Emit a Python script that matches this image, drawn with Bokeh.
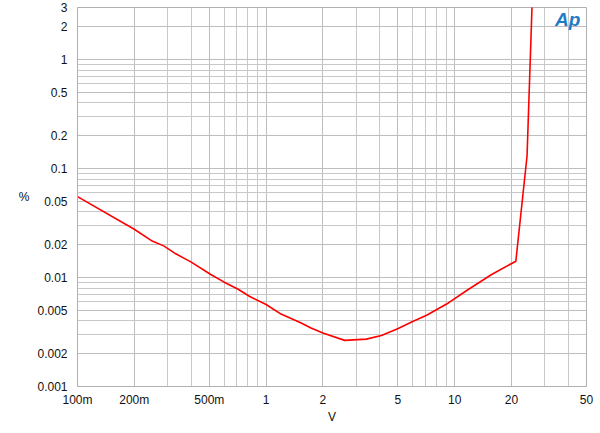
from bokeh.plotting import figure
from bokeh.models import FixedTicker, CustomJSTickFormatter, Range1d, Label
from bokeh.embed import file_html
from bokeh.resources import INLINE

# Data (V, %)
volts = [0.1, 0.2, 0.249, 0.288, 0.332, 0.399, 0.509, 0.600, 0.707, 0.815, 1.0, 1.20,
         1.535, 1.73, 2.0, 2.61, 3.40, 4.09, 5.02, 5.91, 7.10, 9.26, 11.8, 15.7, 21.1,
         24.2, 25.7, 26.0]
thd = [0.0552, 0.0277, 0.0216, 0.0194, 0.0165, 0.0139, 0.01066, 0.00906, 0.00785, 0.00673,
       0.00565, 0.00462, 0.00382, 0.00344, 0.00309, 0.00265, 0.00272, 0.00294, 0.00340,
       0.00391, 0.00450, 0.00584, 0.00776, 0.01066, 0.0141, 0.131, 3.0, 4.0]

x_major = [0.1, 0.2, 0.5, 1, 2, 5, 10, 20, 50]
x_minor = [0.3, 0.4, 0.6, 0.7, 0.8, 0.9, 3, 4, 6, 7, 8, 9, 30, 40]
y_major = [0.001, 0.002, 0.005, 0.01, 0.02, 0.05, 0.1, 0.2, 0.5, 1, 2, 3]
y_minor = [0.003, 0.004, 0.006, 0.007, 0.008, 0.009, 0.03, 0.04, 0.06, 0.07, 0.08, 0.09,
           0.3, 0.4, 0.6, 0.7, 0.8, 0.9]

p = figure(width=596, height=426, x_axis_type="log", y_axis_type="log",
           x_range=Range1d(0.1, 50), y_range=Range1d(0.001, 3),
           output_backend="svg", toolbar_location=None,
           min_border_left=77, min_border_right=10, min_border_top=7, min_border_bottom=34)

p.background_fill_color = "white"
p.border_fill_color = "white"
p.outline_line_color = "#b0b0b0"

xt = FixedTicker(ticks=x_major, minor_ticks=x_minor)
yt = FixedTicker(ticks=y_major, minor_ticks=y_minor)
p.xaxis.ticker = xt
p.yaxis.ticker = yt
p.xgrid.ticker = xt
p.ygrid.ticker = yt

p.xaxis.formatter = CustomJSTickFormatter(code="""
if (tick < 1) { return Math.round(tick*1000) + "m"; }
return String(tick);
""")
p.yaxis.formatter = CustomJSTickFormatter(code="return String(tick);")

for ax in (p.xaxis, p.yaxis):
    ax.axis_line_color = "#b0b0b0"
    ax.major_tick_line_color = None
    ax.minor_tick_line_color = None
    ax.major_label_text_font = "Liberation Sans"
    ax.major_label_text_font_size = "12px"
    ax.major_label_text_color = "#111111"
    ax.axis_label_text_font = "Liberation Sans"
    ax.axis_label_text_font_size = "12px"
    ax.axis_label_text_font_style = "normal"
    ax.axis_label_text_color = "#111111"

p.xaxis.major_label_standoff = 0
p.yaxis.major_label_standoff = 4
p.xaxis.axis_label = "V"
p.xaxis.axis_label_standoff = 0
p.yaxis.axis_label = "%"
p.yaxis.axis_label_orientation = "horizontal"
p.yaxis.axis_label_standoff = 5

for g in (p.xgrid, p.ygrid):
    g.grid_line_color = "#bdbdbd"
    g.grid_line_width = 1
    g.minor_grid_line_color = "#c8c8c8"
    g.minor_grid_line_width = 1

p.line(volts, thd, line_color="#ff0000", line_width=1.6)

logo = Label(x=34, y=1.85, text="Ap",
             text_font="Liberation Sans", text_font_style="bold italic",
             text_font_size="19px", text_color="#1f7cc4")
p.add_layout(logo)

open("out.html", "w").write(file_html(p, INLINE))
